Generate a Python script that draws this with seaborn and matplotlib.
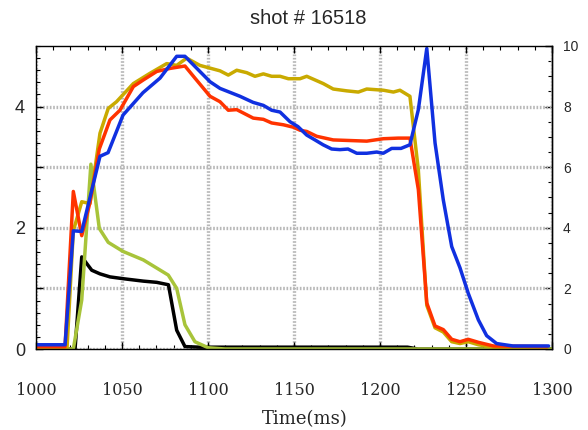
import matplotlib
matplotlib.use("Agg")
import matplotlib.pyplot as plt
from matplotlib.ticker import MultipleLocator, FixedLocator
import seaborn as sns
import pandas as pd

# Time bases (ms) and signal values (left-axis units)
blue_t = [1000, 1016.9, 1021.7, 1026.6, 1037.2, 1041.9, 1050.6, 1062.2, 1072.1, 1081.8,
          1086.6, 1101.2, 1107.0, 1118.6, 1126.2, 1132.2, 1137.0, 1141.9, 1147.7, 1152.3,
          1157.4, 1162.2, 1166.9, 1171.9, 1176.7, 1181.4, 1186.5, 1192.3, 1198.1, 1201.9,
          1206.8, 1212.2, 1217.4, 1222.3, 1227.2, 1232.0, 1236.8, 1241.7, 1246.5, 1251.3,
          1257.2, 1262.0, 1267.8, 1277.3, 1298]
blue_v = [0.07, 0.07, 1.95, 1.94, 3.18, 3.24, 3.86, 4.23, 4.47, 4.83,
          4.83, 4.41, 4.30, 4.17, 4.07, 4.02, 3.94, 3.91, 3.75, 3.67,
          3.53, 3.45, 3.37, 3.30, 3.29, 3.30, 3.23, 3.23, 3.25, 3.23,
          3.31, 3.31, 3.37, 3.95, 4.96, 3.40, 2.46, 1.69, 1.34, 0.92,
          0.48, 0.22, 0.09, 0.05, 0.05]

red_t = [1000, 1016.9, 1021.7, 1026.6, 1031.4, 1036.8, 1043.0, 1048.8, 1056.6, 1062.4,
         1070.2, 1077.9, 1086.6, 1092.4, 1101.2, 1107.0, 1111.8, 1116.7, 1126.3, 1132.2,
         1137.0, 1143.8, 1149.6, 1153.5, 1157.4, 1163.2, 1172.8, 1182.6, 1192.3, 1202.0,
         1210.6, 1217.4, 1222.3, 1227.2, 1232.0, 1236.8, 1241.7, 1246.5, 1251.3, 1257.2,
         1265.9, 1297]
red_v = [0.04, 0.04, 2.60, 1.87, 2.42, 3.30, 3.78, 3.94, 4.33, 4.44,
         4.58, 4.63, 4.67, 4.47, 4.17, 4.08, 3.94, 3.95, 3.81, 3.79,
         3.73, 3.70, 3.66, 3.61, 3.59, 3.51, 3.45, 3.44, 3.43, 3.47,
         3.48, 3.48, 2.63, 0.76, 0.38, 0.32, 0.16, 0.12, 0.16, 0.11,
         0.05, 0.04]

olive_t = [1000, 1018, 1021.7, 1026.6, 1031.4, 1037.2, 1042.0, 1046.8, 1056.6, 1066.3,
           1076.0, 1081.8, 1087.6, 1095.3, 1107.0, 1111.8, 1116.7, 1122.5, 1127.3, 1132.2,
           1137.0, 1141.9, 1146.7, 1153.5, 1157.4, 1167.0, 1172.8, 1180.6, 1187.4, 1192.3,
           1202.0, 1207.8, 1211.6, 1217.4, 1222.3, 1227.2, 1232.0, 1236.8, 1241.7, 1246.5,
           1251.3, 1257.2, 1265.9, 1297]
olive_v = [0.0, 0.0, 1.95, 2.43, 2.40, 3.56, 3.97, 4.08, 4.38, 4.55,
           4.71, 4.68, 4.80, 4.68, 4.59, 4.52, 4.60, 4.56, 4.50, 4.54,
           4.50, 4.50, 4.46, 4.46, 4.50, 4.38, 4.29, 4.26, 4.24, 4.29,
           4.27, 4.24, 4.27, 4.17, 2.95, 0.72, 0.35, 0.28, 0.12, 0.09,
           0.12, 0.07, 0.03, 0.02]

green_t = [1000, 1021.7, 1026.6, 1031.9, 1036.8, 1042.0, 1050.6, 1062.4, 1076.9, 1081.8,
           1086.6, 1092.4, 1100.2, 1110, 1300]
green_v = [0.0, 0.0, 0.81, 3.05, 1.99, 1.76, 1.61, 1.47, 1.22, 1.00,
           0.40, 0.12, 0.02, 0.0, 0.0]

black_t = [1000, 1022.7, 1026.6, 1029.5, 1032.4, 1037.2, 1043.0, 1050.7, 1062.4, 1070.2,
           1077.0, 1081.8, 1086.6, 1095, 1150, 1200, 1216, 1222, 1300]
black_v = [0.0, 0.0, 1.52, 1.41, 1.30, 1.24, 1.19, 1.16, 1.12, 1.10,
           1.06, 0.31, 0.04, 0.03, 0.03, 0.03, 0.03, 0.0, 0.0]

x_ticks = [1000, 1050, 1100, 1150, 1200, 1250, 1300]
left_ticks = [0, 2, 4]
right_ticks = [0, 2, 4, 6, 8, 10]

sns.set_style("ticks")

fig = plt.figure(figsize=(5.88, 4.30), dpi=100)
ax = fig.add_axes([36 / 588, 1 - 349 / 430, 516 / 588, 303 / 430])

series = [
    (black_t, black_v, "#000000"),
    (green_t, green_v, "#a8c43a"),
    (olive_t, olive_v, "#c9aa00"),
    (red_t, red_v, "#ff3300"),
    (blue_t, blue_v, "#1030e0"),
]
for t, v, c in series:
    df = pd.DataFrame({"t": t, "v": v})
    sns.lineplot(data=df, x="t", y="v", ax=ax, color=c, linewidth=2.5,
                 estimator=None, sort=False)

ax.set_xlim(1000, 1300)
ax.set_ylim(0, 5)

# grid at every left-axis unit, labels only on even ones
ax.yaxis.set_major_locator(FixedLocator([0, 1, 2, 3, 4]))
ax.set_yticklabels(["0", "", "2", "", "4"])
ax.yaxis.set_minor_locator(MultipleLocator(0.2))
ax.xaxis.set_major_locator(FixedLocator(x_ticks))
ax.xaxis.set_minor_locator(MultipleLocator(10))
ax.set_xticklabels([str(v) for v in x_ticks])

ax.grid(which="major", color="#b8b8b8", linestyle=(0, (0.5, 0.5)), linewidth=2.4, zorder=0)
ax.set_axisbelow(True)

ax.tick_params(which="both", direction="in", top=True, right=False, color="black")
ax.tick_params(which="major", length=5, width=1)
ax.tick_params(which="minor", length=3, width=0.8)
ax.tick_params(axis="x", which="major", pad=24)
ax.tick_params(axis="y", which="major", pad=8)

for lab in ax.get_xticklabels():
    lab.set_fontfamily("DejaVu Serif")
    lab.set_fontsize(11.5)
for lab in ax.get_yticklabels():
    lab.set_fontfamily("Liberation Sans")
    lab.set_fontsize(13)

for sp in ax.spines.values():
    sp.set_linewidth(1.0)
    sp.set_color("black")

ax.set_xlabel("Time(ms)", fontfamily="DejaVu Serif", fontsize=13)
ax.xaxis.set_label_coords((305 - 36) / 516, -(419 - 349) / 303)
ax.xaxis.label.set_va("center")
ax.set_ylabel("")

sec = ax.secondary_yaxis("right", functions=(lambda y: 2 * y, lambda y: y / 2))
sec.yaxis.set_major_locator(FixedLocator(right_ticks))
sec.yaxis.set_minor_locator(MultipleLocator(0.5))
sec.tick_params(which="both", direction="in", color="black")
sec.tick_params(which="major", length=5, width=1, pad=8)
sec.tick_params(which="minor", length=3, width=0.8)
for lab in sec.get_yticklabels():
    lab.set_fontfamily("Liberation Sans")
    lab.set_fontsize(10)
sec.spines["right"].set_linewidth(1.0)

fig.text(308 / 588, 1 - 19 / 430, "shot # 16518", ha="center", va="center",
         fontfamily="Liberation Sans", fontsize=14.5)

fig.savefig("out.png", dpi=100)
